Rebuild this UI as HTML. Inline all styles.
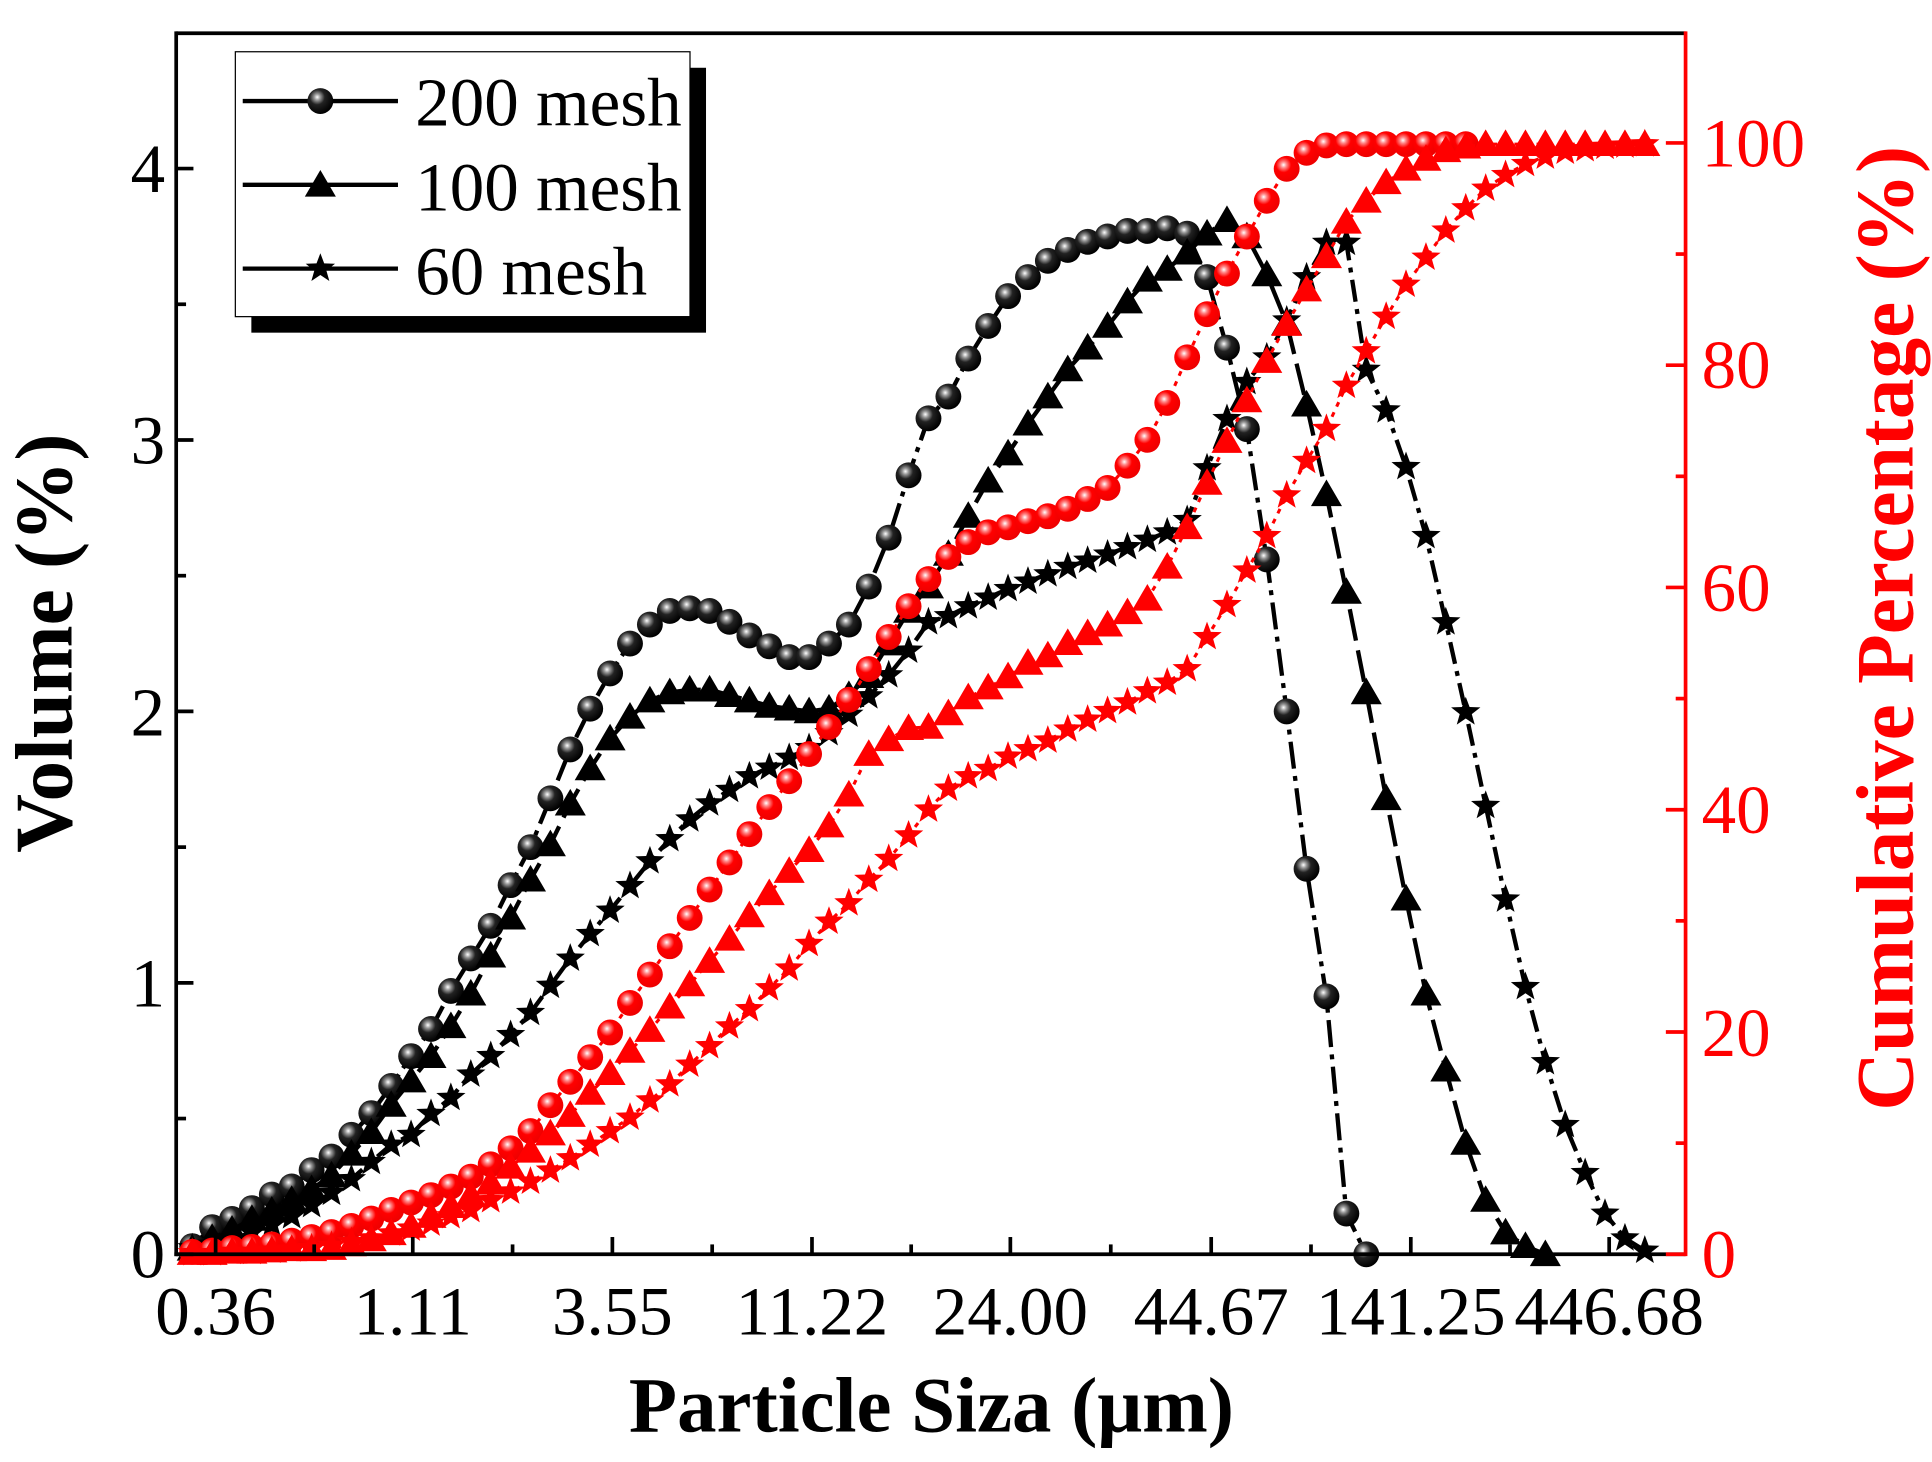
<!DOCTYPE html>
<html><head><meta charset="utf-8"><style>
html,body{margin:0;padding:0;background:#fff;}
svg{display:block;}
text{font-family:"Liberation Serif",serif;}
</style></head><body>
<svg id="s" width="1932" height="1462" viewBox="0 0 1568 1186.6" preserveAspectRatio="none" xmlns="http://www.w3.org/2000/svg">
<defs>
<radialGradient id="gb" cx="0.38" cy="0.35" r="0.65">
<stop offset="0" stop-color="#fff"/><stop offset="0.18" stop-color="#999"/><stop offset="0.45" stop-color="#222"/><stop offset="1" stop-color="#000"/>
</radialGradient>
<radialGradient id="gr" cx="0.38" cy="0.35" r="0.65">
<stop offset="0" stop-color="#fff"/><stop offset="0.18" stop-color="#f88"/><stop offset="0.45" stop-color="#f00"/><stop offset="1" stop-color="#e00"/>
</radialGradient>
</defs>
<g id="plot"></g>
<line x1="143" y1="27" x2="1368" y2="27" stroke="#000" stroke-width="3"/>
<line x1="143" y1="25.5" x2="143" y2="1019.5" stroke="#000" stroke-width="3"/>
<line x1="141.5" y1="1018" x2="1368" y2="1018" stroke="#000" stroke-width="3"/>
<line x1="1368" y1="25.5" x2="1368" y2="1019.5" stroke="#f00" stroke-width="3"/>
<g id="ticks"></g>
<rect x="204" y="55" width="369" height="215" fill="#000"/>
<rect x="191" y="42" width="369" height="215" fill="#fff" stroke="#000" stroke-width="1"/>
<g id="leg"></g>
<g font-size="56" fill="#000">
<text x="337" y="102">200 mesh</text>
<text x="337" y="171">100 mesh</text>
<text x="337" y="239">60 mesh</text>
</g>
<g font-size="56" fill="#000" text-anchor="end">
<text x="134" y="1037">0</text><text x="134" y="817">1</text><text x="134" y="597">2</text><text x="134" y="376">3</text><text x="134" y="156">4</text>
</g>
<g font-size="56" fill="#f00" text-anchor="start">
<text x="1381" y="1037">0</text><text x="1381" y="857">20</text><text x="1381" y="676">40</text><text x="1381" y="496">60</text><text x="1381" y="315">80</text><text x="1381" y="135">100</text>
</g>
<g font-size="56" fill="#000" text-anchor="middle">
<text x="175" y="1083">0.36</text><text x="335" y="1083">1.11</text><text x="497" y="1083">3.55</text><text x="659" y="1083">11.22</text><text x="820" y="1083">24.00</text><text x="983" y="1083">44.67</text><text x="1145" y="1083">141.25</text><text x="1306" y="1083">446.68</text>
</g>
<text x="756" y="1162" font-size="64" font-weight="bold" text-anchor="middle">Particle Siza (μm)</text>
<text transform="translate(58,522) rotate(-90)" font-size="66" font-weight="bold" text-anchor="middle">Volume (%)</text>
<text transform="translate(1552,510) rotate(-90)" font-size="66" font-weight="bold" text-anchor="middle" fill="#f00">Cumulative Percentage (%)</text>
</svg>
<script>
var NS="http://www.w3.org/2000/svg";
function el(p,t,a){var e=document.createElementNS(NS,t);for(var k in a)e.setAttribute(k,a[k]);p.appendChild(e);return e;}
var plot=document.getElementById('plot'),ticks=document.getElementById('ticks'),leg=document.getElementById('leg');
function gx(k){return 156+16.15*k;}
function vy(v){return 1018-v*220.3;}
function circ(p,x,y,red){el(p,'circle',{cx:x,cy:y,r:10.5,fill:red?'url(#gr)':'url(#gb)'});}
function tri(p,x,y,c){var s=12;el(p,'polygon',{points:(x)+','+(y-s)+' '+(x+s*1.05)+','+(y+s*0.8)+' '+(x-s*1.05)+','+(y+s*0.8),fill:c});}
function star(p,x,y,c){var R=12.5,r=5.2,pts=[];for(var i=0;i<10;i++){var a=-Math.PI/2+i*Math.PI/5,rr=i%2?r:R;pts.push((x+rr*Math.cos(a)).toFixed(1)+','+(y+rr*Math.sin(a)).toFixed(1));}el(p,'polygon',{points:pts.join(' '),fill:c});}
function series(ys,mk,c,lw,dash){var d='';for(var k=0;k<ys.length;k++)d+=(k?'L':'M')+gx(k).toFixed(1)+' '+ys[k].toFixed(1);
 var a={d:d,fill:'none',stroke:c,'stroke-width':lw};if(dash)a['stroke-dasharray']=dash;el(plot,'path',a);
 for(var k=0;k<ys.length;k++){var x=gx(k),y=ys[k];if(mk=='c')circ(plot,x,y,c!='#000');else if(mk=='t')tri(plot,x,y,c);else star(plot,x,y,c);}}
var v200=[0.03,0.1,0.13,0.17,0.22,0.25,0.31,0.36,0.44,0.52,0.62,0.73,0.83,0.97,1.09,1.21,1.36,1.5,1.68,1.86,2.01,2.14,2.25,2.32,2.37,2.38,2.37,2.33,2.28,2.24,2.2,2.2,2.25,2.32,2.46,2.64,2.87,3.08,3.16,3.3,3.42,3.53,3.6,3.66,3.7,3.73,3.75,3.77,3.77,3.78,3.76,3.6,3.34,3.04,2.56,2.0,1.42,0.95,0.15,0];
var v100=[0.02,0.06,0.09,0.13,0.16,0.2,0.24,0.29,0.37,0.45,0.55,0.64,0.73,0.84,0.96,1.1,1.24,1.38,1.51,1.66,1.79,1.9,1.98,2.04,2.07,2.08,2.08,2.06,2.04,2.02,2.01,2.0,2.01,2.06,2.13,2.25,2.37,2.46,2.58,2.72,2.85,2.95,3.06,3.16,3.26,3.34,3.42,3.51,3.59,3.63,3.69,3.76,3.81,3.75,3.61,3.43,3.13,2.8,2.44,2.07,1.68,1.31,0.96,0.68,0.41,0.2,0.08,0.03,0.0];
var y60=[1013,1010,1006,1000,994,987,978,968,957,943,929,921,904,891,872,857,840,822,800,778,758,739,719,699,681,665,652,641,630,623,615,607,595,580,565,548,528,505,500,492,485,478,472,466,460,455,450,444,438,432,422,380,340,310,290,260,225,197,197,300,333,379,435,505,578,654,730,801,862,913,952,985,1005,1015];
var rc=[1016,1015,1013,1012,1010,1007,1004,1000,995,989,982,976,970,963,955,945,932,918,897,878,858,838,814,791,768,745,722,700,677,655,634,612,590,568,543,517,492,470,452,440,432,428,423,419,413,405,396,378,357,327,290,255,222,192,163,137,124,118,117,117,117,117,117,117,117];
var rt=[1017,1017,1016,1016,1015,1014,1014,1013,1010,1006,1001,995,987,979,970,960,947,934,920,905,887,871,853,836,817,799,780,762,743,725,707,690,670,645,612,600,591,590,579,566,558,549,538,532,522,514,507,497,486,460,428,392,358,325,293,263,235,208,180,163,148,137,129,122,119,117,117,117,117,117,117,117,117,117];
var rs=[1017,1017,1016,1016,1015,1014,1013,1011,1008,1005,1001,997,993,987,982,974,967,959,950,940,929,918,907,893,880,864,849,833,819,802,786,766,748,733,714,697,678,657,640,630,624,614,608,601,592,584,577,570,561,554,543,517,491,463,435,402,374,348,313,285,257,231,209,187,169,153,142,133,127,123,121,119,118,117];
series(v200.map(vy),'c','#000',3.5,'22 6 4 6');
series(v100.map(vy),'t','#000',3.5,'26 8');
series(y60,'s','#000',3.5,'18 6 4 6');
series(rc,'c','#f00',2.5,'4 5');
series(rt,'t','#f00',2.5,'4 5');
series(rs,'s','#f00',2.5,'4 5');
var mx=[175,335,497,659,820,983,1145,1306];
mx.forEach(function(x,i){el(ticks,'line',{x1:x,y1:1018,x2:x,y2:1004,stroke:'#000','stroke-width':3});
 if(i<mx.length-1){var m=(x+mx[i+1])/2;el(ticks,'line',{x1:m,y1:1018,x2:m,y2:1010,stroke:'#000','stroke-width':3});}});
for(var v=0;v<=4.0001;v+=0.5){var y=vy(v),L=(Math.round(v*2)%2==0)?14:8;el(ticks,'line',{x1:143,y1:y,x2:143+L,y2:y,stroke:'#000','stroke-width':3});}
for(var p=0;p<=100;p+=10){var y=1018-p*9.02,L=(p%20==0)?16:8;el(ticks,'line',{x1:1368,y1:y,x2:1368-L,y2:y,stroke:'#f00','stroke-width':3});}
[[82,'c'],[150,'t'],[218,'s']].forEach(function(a){el(leg,'line',{x1:197,y1:a[0],x2:323,y2:a[0],stroke:'#000','stroke-width':3.5});
 if(a[1]=='c')circ(leg,260,a[0],false);else if(a[1]=='t')tri(leg,260,a[0],'#000');else star(leg,260,a[0],'#000');});
</script>
</body></html>
